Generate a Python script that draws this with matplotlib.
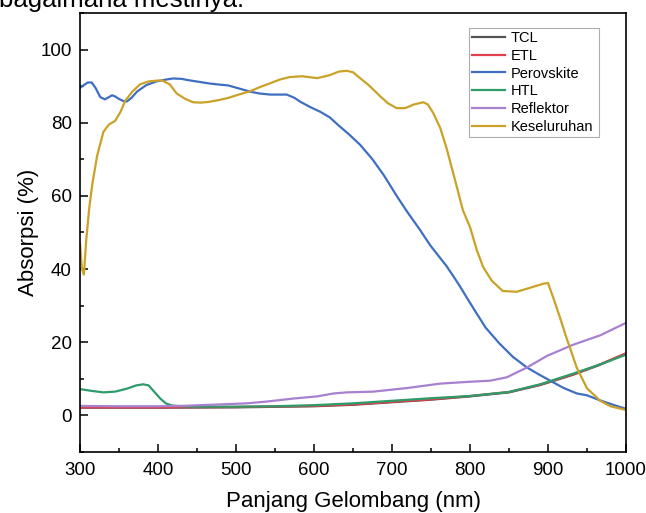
import matplotlib
matplotlib.use("Agg")
import matplotlib.pyplot as plt
from matplotlib.ticker import MultipleLocator

plt.rcParams['font.family'] = ['Liberation Sans', 'DejaVu Sans']

# ---- data ----
wl_kes = [300, 302.5, 305, 308, 312, 316, 322, 330, 337, 345, 352, 358, 367, 377, 388, 398, 405,
          415, 424, 435, 445, 455, 465, 478, 490, 505, 518, 530, 544, 556, 569, 585, 604, 620, 632,
          642, 650, 659, 670, 685, 695, 706, 717, 728, 740, 746, 753, 762, 770, 780, 791, 800, 809,
          817, 828, 842, 860, 877, 894, 900, 907, 915, 924, 937, 950, 967, 980, 1000]
keseluruhan = [47, 40, 38.5, 48, 57, 63.5, 71, 77.5, 79.5, 80.5, 83, 86, 88.5, 90.5, 91.3, 91.5, 91.6,
               90.5, 88, 86.5, 85.6, 85.5, 85.7, 86.2, 86.8, 87.8, 88.6, 89.7, 90.8, 91.8, 92.5, 92.7,
               92.2, 93, 94, 94.2, 93.8, 92.2, 90.3, 87.2, 85.3, 84, 84, 85, 85.6, 85, 82.6, 78.5, 73,
               65, 56, 51.5, 45, 40.5, 36.8, 34, 33.8, 34.9, 36, 36.2, 32, 27, 21, 13, 7.4, 4, 2.5, 1.5]

wl_per = [300, 305, 310, 315, 320, 326, 332, 337, 341, 345, 350, 355, 360, 366, 373, 385, 398, 410,
          419, 430, 440, 455, 467, 480, 490, 505, 518, 530, 544, 555, 565, 575, 582, 595, 608, 620,
          633, 645, 659, 675, 690, 706, 720, 735, 749, 760, 770, 785, 804, 820, 838, 855, 873, 890,
          907, 920, 937, 950, 967, 985, 1000]
perovskite = [89.5, 90.3, 91, 91, 89.5, 87, 86.4, 87, 87.5, 87.2, 86.5, 86, 85.8, 86.8, 88.5, 90.3,
              91.3, 91.8, 92.1, 92, 91.6, 91.1, 90.7, 90.4, 90.2, 89.3, 88.5, 88, 87.7, 87.7, 87.7,
              86.8, 85.8, 84.3, 83, 81.5, 79, 76.8, 74, 70, 65.5, 60, 55.5, 51, 46.5, 43.5, 40.8, 36,
              29.4, 24, 19.6, 16, 13.1, 11, 9, 7.5, 6, 5.5, 4.1, 2.8, 1.8]

wl_htl = [300, 315, 330, 345, 360, 372, 381, 388, 395, 403, 410, 418, 430, 450, 500, 550, 600, 650,
          700, 750, 800, 850, 890, 932, 965, 1000]
htl = [7.2, 6.7, 6.3, 6.5, 7.3, 8.2, 8.5, 8.2, 6.5, 4.6, 3.3, 2.7, 2.5, 2.4, 2.4, 2.5, 2.8, 3.3,
       4.0, 4.7, 5.3, 6.4, 8.5, 11.4, 13.8, 16.6]

wl_etl = [300, 400, 500, 600, 650, 700, 750, 800, 850, 890, 932, 965, 1000]
etl = [2.2, 2.2, 2.3, 2.6, 3.0, 3.7, 4.4, 5.3, 6.4, 8.4, 11.2, 13.8, 17.0]

wl_tcl = [300, 400, 500, 600, 650, 700, 750, 800, 850, 890, 932, 965, 1000]
tcl = [2.1, 2.1, 2.2, 2.5, 2.9, 3.6, 4.3, 5.2, 6.3, 8.3, 11.1, 13.7, 16.9]

wl_ref = [300, 350, 400, 430, 479, 514, 540, 573, 604, 625, 642, 676, 720, 762, 800, 826, 847, 873,
          899, 932, 967, 1000]
reflektor = [2.6, 2.5, 2.5, 2.6, 3.0, 3.3, 3.8, 4.6, 5.2, 6.0, 6.3, 6.5, 7.5, 8.7, 9.2, 9.5, 10.4,
             13.1, 16.3, 19.3, 21.9, 25.3]

series = [
    ("TCL", wl_tcl, tcl, "#555555"),
    ("ETL", wl_etl, etl, "#E0404A"),
    ("Perovskite", wl_per, perovskite, "#3F6FC0"),
    ("HTL", wl_htl, htl, "#2E9B6A"),
    ("Reflektor", wl_ref, reflektor, "#A880D0"),
    ("Keseluruhan", wl_kes, keseluruhan, "#C9A227"),
]

W, H = 646, 513
fig = plt.figure(figsize=(W / 100, H / 100), dpi=100)
ax = fig.add_axes([80 / W, 1 - 452 / H, (626 - 80) / W, (452 - 13) / H])

for name, x, y, c in series:
    ax.plot(x, y, color=c, lw=1.6, label=name)

ax.set_xlim(300, 1000)
ax.set_ylim(-10, 110)
ax.xaxis.set_major_locator(MultipleLocator(100))
ax.xaxis.set_minor_locator(MultipleLocator(50))
ax.yaxis.set_minor_locator(MultipleLocator(10))
ax.set_yticks([0, 20, 40, 60, 80, 100])
ax.tick_params(which='both', direction='in', top=False, right=False, width=1.1, labelsize=13.5)
ax.tick_params(which='major', length=6)
ax.tick_params(axis='x', which='major', pad=7)
ax.tick_params(axis='y', which='major', pad=6)
ax.tick_params(which='minor', length=3)
for s in ax.spines.values():
    s.set_linewidth(1.2)

ax.set_xlabel("Panjang Gelombang (nm)", fontsize=16, labelpad=9)
ax.set_ylabel("Absorpsi (%)", fontsize=16, labelpad=1)

leg_h = 110 / H
leg = ax.legend(loc='upper left',
                bbox_to_anchor=(469 / W, 1 - 28 / H - leg_h, 130 / W, leg_h),
                bbox_transform=fig.transFigure, mode='expand',
                fontsize=10.5, frameon=True, fancybox=False,
                edgecolor='#999999', handlelength=2.3, handletextpad=0.35, labelspacing=0.26,
                borderpad=0.2, borderaxespad=0)
leg.get_frame().set_linewidth(0.8)

fig.text(-0.002, 0.986, "bagaimana mestinya.", fontsize=18.5, va='baseline', ha='left')

fig.savefig("out.png", dpi=100)
